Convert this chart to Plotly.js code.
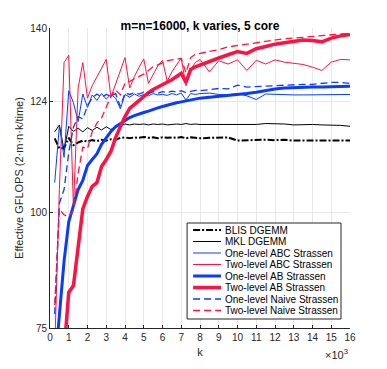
<!DOCTYPE html>
<html>
<head>
<meta charset="utf-8">
<script src="https://cdn.plot.ly/plotly-3.0.1.min.js"></script>
<style>
  html, body { margin: 0; padding: 0; background: #fff; }
  #chart { width: 387px; height: 369px; }
</style>
</head>
<body>
<div id="chart"></div>
<script>
// k in thousands
let k = [0.25, 0.5, 0.75, 1, 1.25, 1.5, 1.75, 2, 2.25, 2.5, 2.75, 3, 3.25, 3.5, 3.75, 4,
  4.25, 4.5, 4.75, 5, 5.25, 5.5, 5.75, 6, 6.25, 6.5, 6.75, 7, 7.25, 7.5, 7.75, 8,
  8.5, 9, 9.5, 10, 10.5, 11, 11.5, 12, 12.5, 13, 13.5, 14, 14.5, 15, 15.5, 16];

let blis = [116.1, 113.9, 114.0, 116.2, 114.6, 115.2, 115.6, 115.4, 115.7, 115.5, 115.8, 115.6, 115.9, 115.8, 116.2, 116.3,
  116.1, 116.3, 116.2, 116.4, 116.2, 116.3, 116.1, 116.3, 116.2, 116.3, 116.2, 116.4, 116.1, 116.3, 116.2, 116.1,
  116.2, 116.3, 116.3, 115.6, 115.7, 115.7, 115.8, 115.7, 115.8, 115.6, 115.6, 115.7, 115.6, 115.7, 115.6, 115.6];

let mkl = [117.5, 119.0, 113.5, 118.7, 117.6, 118.3, 117.5, 118.4, 117.8, 118.5, 117.9, 118.6, 118.0, 118.7, 118.9, 119.2,
  119.0, 119.2, 119.1, 119.2, 119.0, 119.2, 119.1, 119.2, 119.0, 119.1, 119.2, 119.1, 119.3, 119.1, 119.2, 119.1,
  119.1, 119.0, 119.1, 119.1, 119.0, 119.1, 119.3, 119.3, 119.2, 119.0, 119.1, 119.1, 119.0, 119.0, 118.9, 118.7];

let abc1 = [106.5, 118.8, 112.0, 126.4, 123.8, 119.7, 125.7, 122.8, 125.5, 124.3, 125.8, 124.6, 125.6, 124.8, 122.5, 125.6,
  125.0, 125.7, 125.2, 125.6, 125.3, 125.8, 125.5, 125.6, 125.4, 125.8, 125.5, 125.9, 124.4, 125.8, 125.6, 125.8,
  125.9, 125.6, 125.5, 125.8, 125.3, 124.5, 125.7, 125.6, 125.6, 125.5, 125.5, 125.5, 125.5, 125.5, 125.5, 125.6];

let abc2 = [70, 105, 132.5, 134.1, 101, 127, 132.5, 124.8, 127.5, 129.5, 131.3, 133.2, 125, 128, 131, 133.6,
  127, 129.5, 131.5, 133.3, 128, 130, 131.8, 133, 128.5, 130.5, 132, 133.5, 127.5, 131, 132.5, 133.2,
  130.5, 132.9, 132.2, 133.1, 130.8, 133.0, 132.2, 133.1, 132.6, 132.3, 132.1, 131.5, 130.8, 132.6, 133.2, 133.1];

let ab1 = [66, 78, 89.5, 98, 101.5, 105, 107, 110.2, 111.5, 112.7, 114.8, 116.3, 117.6, 118.6, 119.3, 120,
  120.6, 121, 121.4, 121.7, 122, 122.4, 122.7, 123, 123.3, 123.5, 123.8, 124, 124.2, 124.4, 124.6, 124.8,
  125.0, 125.2, 125.3, 125.5, 125.8, 126.1, 126.5, 126.8, 127.0, 127.1, 127.2, 127.2, 127.2, 127.3, 127.4, 127.4];

let ab2 = [40, 58, 70, 82.7, 84.2, 93, 100.8, 103.5, 105.7, 106.5, 110, 111.5, 113.3, 116.3, 118.8, 120.8,
  122.6, 123.5, 124.3, 125.2, 126.0, 126.7, 127.2, 127.8, 128.3, 128.8, 129.5, 130.2, 128.2, 131, 131.6, 132.0,
  132.8, 133.5, 134.2, 134.9, 134.5, 135.5, 136.0, 136.5, 136.8, 137.1, 137.4, 137.3, 137.0, 137.8, 138.3, 138.6];

let naive1 = [78, 102, 105, 113, 118.5, 120.8, 120.3, 123.2, 124.8, 125.7, 125.0, 125.6, 125.2, 125.8, 123.0, 125.9,
  125.6, 126.0, 125.7, 126.1, 125.8, 126.2, 125.9, 126.2, 126.0, 126.3, 126.1, 126.4, 126.0, 126.3, 126.5, 126.4,
  126.6, 126.9, 126.8, 127.6, 127.2, 127.3, 127.5, 127.6, 127.7, 127.8, 127.8, 127.8, 128.0, 128.2, 128.2, 128.0];

let naive2 = [80, 100.8, 99.5, 99.1, 100.5, 108.5, 114.2, 113.8, 117.5, 119.4, 120.5, 122.8, 125.2, 126.6, 125.5, 128.0,
  128.4, 129.0, 129.5, 130.0, 130.8, 131.6, 132.0, 132.5, 132.9, 133.1, 133.2, 133.4, 130.3, 133.6, 134.3, 134.5,
  134.9, 135.3, 135.9, 136.2, 136.4, 136.8, 137.0, 137.4, 137.7, 137.8, 138.0, 138.1, 138.3, 138.5, 138.7, 138.8];

let names = ['BLIS DGEMM', 'MKL DGEMM', 'One-level ABC Strassen', 'Two-level ABC Strassen',
  'One-level AB Strassen', 'Two-level AB Strassen', 'One-level Naive Strassen', 'Two-level Naive Strassen'];
let yTicks = [75, 100, 124, 140];
let xTicks = [0, 1, 2, 3, 4, 5, 6, 7, 8, 9, 10, 11, 12, 13, 14, 15, 16];

let blue = '#0a3cff';
let red = '#ff1242';
let font = 'Liberation Sans, Arial, Helvetica, sans-serif';

let styles = [
  {color: '#000000', width: 2, dash: '7px,2px,2px,2px'},
  {color: '#000000', width: 1},
  {color: blue, width: 1},
  {color: red, width: 1},
  {color: blue, width: 3},
  {color: red, width: 3.5},
  {color: blue, width: 1.3, dash: '7px,4px'},
  {color: red, width: 1.3, dash: '7px,4px'}
];
let ys = [blis, mkl, abc1, abc2, ab1, ab2, naive1, naive2];

let data = ys.map((y, i) => ({
  x: k,
  y: y,
  name: names[i],
  type: 'scatter',
  mode: 'lines',
  line: styles[i],
  showlegend: false
}));

// legend drawn by hand so rows can be as tight as the original
let shapes = [
  {type: 'rect', xref: 'paper', yref: 'paper', x0: 0.457, x1: 0.97, y0: 0.03, y1: 0.35,
   line: {color: '#262626', width: 1}, fillcolor: '#ffffff', layer: 'above'}
];
let annotations = [];
names.forEach((n, i) => {
  let yp = (328 - (230 + i * 11.5)) / 300;
  let st = styles[i];
  shapes.push({type: 'line', xref: 'paper', yref: 'paper', x0: 0.477, x1: 0.57, y0: yp, y1: yp,
    line: {color: st.color, width: st.width, dash: st.dash || 'solid'}, layer: 'above'});
  annotations.push({xref: 'paper', yref: 'paper', x: 0.577, y: yp, xanchor: 'left', yanchor: 'middle',
    text: n, showarrow: false, font: {family: font, size: 10, color: '#000'}});
});
annotations.push({xref: 'paper', yref: 'paper', x: 1.0, y: -0.085, xanchor: 'right', yanchor: 'middle',
  text: '×10<sup>3</sup>', showarrow: false, font: {family: font, size: 11, color: '#262626'}});

let layout = {
  width: 387,
  height: 369,
  margin: {l: 50, r: 37, t: 28, b: 41},
  paper_bgcolor: '#ffffff',
  plot_bgcolor: '#ffffff',
  font: {family: font, size: 10, color: '#262626'},
  title: {text: '<b>m=n=16000, k varies, 5 core</b>', x: 0.5, xref: 'paper', y: 0.93, yanchor: 'middle',
    font: {family: font, size: 12, color: '#000'}},
  xaxis: {
    range: [0, 16], tickvals: xTicks, ticktext: xTicks.map(String),
    showline: true, linecolor: '#262626', linewidth: 1,
    ticks: 'inside', ticklen: 3, tickcolor: '#262626',
    showgrid: true, gridcolor: '#e8e8e8', zeroline: false,
    title: {text: 'k', font: {family: font, size: 11, color: '#262626'}, standoff: 6}
  },
  yaxis: {
    range: [75, 140], tickvals: yTicks, ticktext: yTicks.map(String),
    showline: true, linecolor: '#262626', linewidth: 1,
    ticks: 'inside', ticklen: 3, tickcolor: '#262626',
    showgrid: true, gridcolor: '#e8e8e8', zeroline: false,
    title: {text: 'Effective GFLOPS (2·m·n·k/time)', font: {family: font, size: 11, color: '#262626'}, standoff: 4}
  },
  shapes: shapes,
  annotations: annotations
};

Plotly.newPlot('chart', data, layout, {displayModeBar: false, staticPlot: true});
</script>
</body>
</html>
